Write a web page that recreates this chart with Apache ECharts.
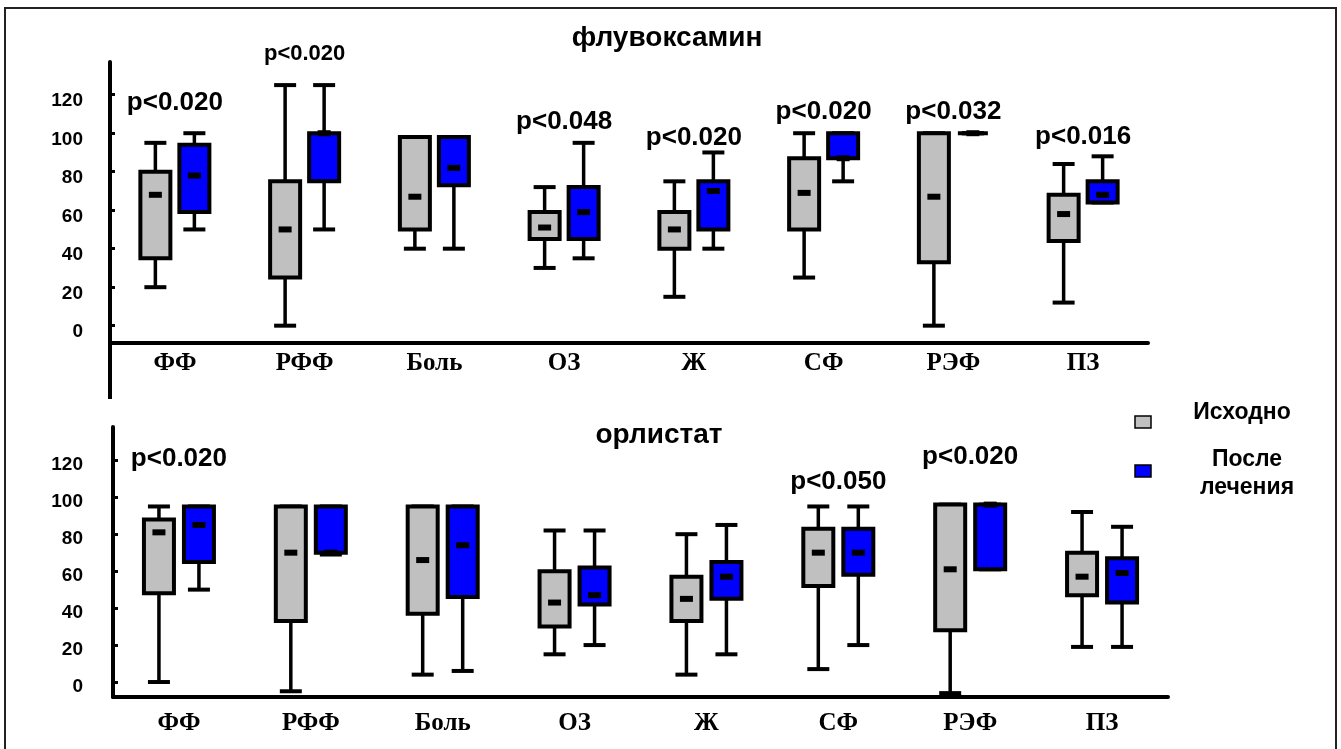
<!DOCTYPE html>
<html>
<head>
<meta charset="utf-8">
<script src="https://cdn.jsdelivr.net/npm/echarts@6/dist/echarts.min.js"></script>
<style>
html,body{margin:0;padding:0;background:#fff;}
#chart{width:1341px;height:749px;}
</style>
</head>
<body>
<div id="chart"></div>
<script>
var categories=['ФФ','РФФ','Боль','ОЗ','Ж','СФ','РЭФ','ПЗ'];
var tickValues=[0,20,40,60,80,100,120];

// each row: [min, q1, median, q3, max]
var fluvBefore=[
    [20,35,68,80,95],
    [0,25,50,75,125],
    [40,50,67,98,98],
    [30,45,51,59,72],
    [15,40,50,59,75],
    [25,50,69,87,100],
    [0,33,67,100,100],
    [12,44,58,68,84]
];
var fluvAfter=[
    [50,59,78,94,100],
    [50,75,100,100,125],
    [40,73,82,98,98],
    [35,45,59,72,95],
    [40,50,70,75,90],
    [75,87,87,100,100],
    [100,100,100,100,100],
    [64,64,68,75,88]
];
var orlBefore=[
    [0,48,81,88,95],
    [-5,33,70,95,95],
    [4,37,66,95,95],
    [15,30,43,60,82],
    [4,33,45,57,80],
    [7,52,70,83,95],
    [-6,28,61,96,96],
    [19,47,57,70,92]
];
var orlAfter=[
    [50,65,85,95,95],
    [69,70,70,95,95],
    [6,46,74,95,95],
    [20,42,47,62,82],
    [15,45,57,65,85],
    [20,58,70,83,95],
    [61,61,96,96,96],
    [19,43,59,67,84]
];

// p-values and the level (in axis units) where each label sits
var fluvP=['p<0.020','p<0.020','','p<0.048','p<0.020','p<0.020','p<0.032','p<0.016'];
var fluvPAt=[116,141,null,106,97.5,111,111,98];
var orlP=['p<0.020','','','','','p<0.050','p<0.020',''];
var orlPAt=[121,null,null,null,null,108.6,121.6,null];

var legendNames=['Исходно','После\nлечения'];

var SANS="'Liberation Sans', Arial, sans-serif";
var SERIF="'Liberation Serif', 'Times New Roman', serif";
var GRAY='#c0c0c0';
var BLUE='#0000ff';

function boxData(rows){
    return rows.map(function(r,i){ return [i].concat(r); });
}

function drawBox(fill,shift){
    return function(params,api){
        var cat=api.value(0);
        var cx=api.coord([cat,0])[0]+shift;
        var y=[1,2,3,4,5].map(function(d){ return api.coord([cat,api.value(d)])[1]; });
        var half=15,cap=11;
        return {
            type:'group',
            children:[
                {type:'line',shape:{x1:cx,y1:y[0],x2:cx,y2:y[4]},style:{stroke:'#000',lineWidth:3.5}},
                {type:'line',shape:{x1:cx-cap,y1:y[0],x2:cx+cap,y2:y[0]},style:{stroke:'#000',lineWidth:4}},
                {type:'line',shape:{x1:cx-cap,y1:y[4],x2:cx+cap,y2:y[4]},style:{stroke:'#000',lineWidth:4}},
                {type:'rect',shape:{x:cx-half,y:y[3],width:half*2,height:y[1]-y[3]},style:{fill:fill,stroke:'#000',lineWidth:4}},
                {type:'rect',shape:{x:cx-6.5,y:y[2]-3,width:13,height:6},style:{fill:'#000'}}
            ]
        };
    };
}

function pSeries(labels,levels,axis){
    var data=[],texts=[];
    for(var i=0;i<labels.length;i++){
        if(labels[i]){
            data.push([i,levels[i]]);
            texts.push(labels[i]);
        }
    }
    return {
        type:'custom',
        xAxisIndex:axis,yAxisIndex:axis,
        clip:false,
        data:data,
        encode:{x:0,y:1},
        renderItem:function(params,api){
            var p=api.coord([api.value(0),api.value(1)]);
            var big=!(axis===0&&api.value(0)===1);
            return {
                type:'text',
                style:{
                    x:p[0],y:p[1],text:texts[params.dataIndex],
                    align:'center',verticalAlign:'middle',
                    font:'bold '+(big?26:22)+'px '+SANS,fill:'#000'
                }
            };
        }
    };
}

function yAxisFor(idx,min,max,lh,margin){
    return {
        type:'value',gridIndex:idx,min:min,max:max,
        splitLine:{show:false},
        axisLine:{show:true,lineStyle:{color:'#000',width:4}},
        axisTick:{show:true,inside:true,length:5,customValues:tickValues,lineStyle:{color:'#000',width:3}},
        axisLabel:{customValues:tickValues,margin:margin,verticalAlign:'top',lineHeight:lh,color:'#000',fontFamily:SANS,fontWeight:'bold',fontSize:19}
    };
}

function xAxisFor(idx,margin){
    return {
        type:'category',gridIndex:idx,data:categories,
        axisLine:{show:true,onZero:false,lineStyle:{color:'#000',width:4}},
        axisTick:{show:false},
        axisLabel:{margin:margin,color:'#000',fontFamily:SERIF,fontWeight:'bold',fontSize:25}
    };
}

var chart=echarts.init(document.getElementById('chart'));
var option={
    backgroundColor:'#fff',
    animation:false,
    title:[
        {text:'флувоксамин',left:662,top:19,textAlign:'center',textStyle:{fontFamily:SANS,fontWeight:'bold',fontSize:28,color:'#000'}},
        {text:'орлистат',left:654,top:416,textAlign:'center',textStyle:{fontFamily:SANS,fontWeight:'bold',fontSize:28,color:'#000'}}
    ],
    grid:[
        {left:110,top:62,width:1038,height:281},
        {left:113,top:427,width:1055,height:270}
    ],
    xAxis:[xAxisFor(0,8),xAxisFor(1,14)],
    yAxis:[yAxisFor(0,-9,137,13,27),yAxisFor(1,-8.1,138,10,30)],
    series:[
        {type:'custom',name:legendNames[0],xAxisIndex:0,yAxisIndex:0,data:boxData(fluvBefore),encode:{x:0,y:[1,2,3,4,5]},renderItem:drawBox(GRAY,-19.5)},
        {type:'custom',name:legendNames[1],xAxisIndex:0,yAxisIndex:0,data:boxData(fluvAfter),encode:{x:0,y:[1,2,3,4,5]},renderItem:drawBox(BLUE,19.5)},
        {type:'custom',name:legendNames[0],xAxisIndex:1,yAxisIndex:1,clip:false,data:boxData(orlBefore),encode:{x:0,y:[1,2,3,4,5]},renderItem:drawBox(GRAY,-20)},
        {type:'custom',name:legendNames[1],xAxisIndex:1,yAxisIndex:1,clip:false,data:boxData(orlAfter),encode:{x:0,y:[1,2,3,4,5]},renderItem:drawBox(BLUE,20)},
        pSeries(fluvP,fluvPAt,0),
        pSeries(orlP,orlPAt,1)
    ],
    graphic:[
        // outer frame
        {type:'rect',shape:{x:5,y:8,width:1331,height:770},style:{fill:'none',stroke:'#222',lineWidth:2}},
        // top y axis runs on below the x axis
        {type:'line',shape:{x1:110,y1:343,x2:110,y2:399},style:{stroke:'#000',lineWidth:4}},
        // legend
        {type:'rect',shape:{x:1135,y:416,width:16,height:12},style:{fill:GRAY,stroke:'#000',lineWidth:1.5}},
        {type:'rect',shape:{x:1135,y:465,width:16,height:12},style:{fill:BLUE,stroke:'#000',lineWidth:1.5}},
        {type:'text',style:{x:1242,y:413,text:legendNames[0],align:'center',verticalAlign:'middle',font:'bold 23px '+SANS,fill:'#000'}},
        {type:'text',style:{x:1247,y:474,text:legendNames[1],align:'center',verticalAlign:'middle',lineHeight:28,font:'bold 23px '+SANS,fill:'#000'}}
    ]
};
chart.setOption(option);
</script>
</body>
</html>
